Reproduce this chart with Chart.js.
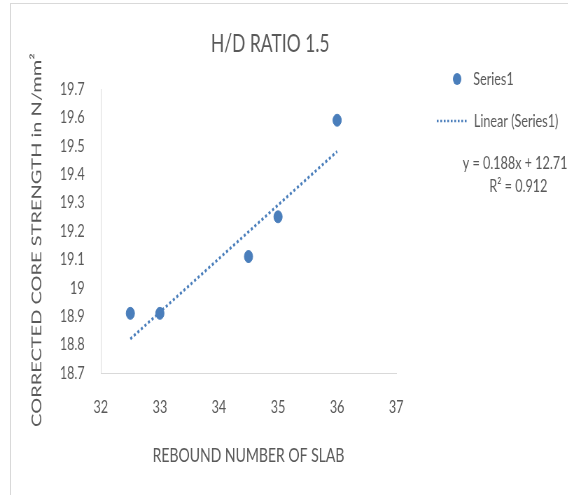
<!DOCTYPE html>
<html lang="en">
  <head>
    <meta charset="UTF-8" />
    <title>H/D RATIO 1.5</title>
    <script src="https://cdn.jsdelivr.net/npm/chart.js"></script>
    <style>
      body { margin: 0; background: #fff; }
      #wrap { position: relative; width: 568px; height: 495px; overflow: hidden; }
      #frame { position: absolute; left: 10px; top: 3px; width: 600px; height: 540px; border: 1px solid #d9d9d9; }
      /* the original picture is squeezed sideways, so draw wide and squeeze */
      canvas { position: absolute; left: 0; top: 0; transform: scaleX(0.7); transform-origin: 0 0; }
    </style>
  </head>
  <body>
    <div id="wrap">
      <div id="frame"></div>
      <canvas id="chart" width="811" height="495"></canvas>
    </div>

    <script>
      // data
      const rebound = [32.5, 33, 34.5, 35, 36];
      const strength = [18.91, 18.91, 19.11, 19.25, 19.59];
      // trendline ends (y = 0.188x + 12.71)
      const trendX = [32.5, 36];
      const trendY = [18.82, 19.48];
      const equationText = ["y = 0.188x + 12.71", "R\u00b2 = 0.912"];

      const font = "Lato, 'Open Sans', sans-serif";
      const grey = "#595959";
      const blue = "#4a7ebb";

      // title, y title, legend and equation
      const sideText = {
        id: "sideText",
        afterDraw(chart) {
          const ctx = chart.ctx;
          ctx.save();
          ctx.fillStyle = grey;
          ctx.textBaseline = "middle";
          ctx.textAlign = "center";
          ctx.font = "25px " + font;
          ctx.fillText("H/D RATIO 1.5", 386, 44);

          ctx.save();
          ctx.translate(53, 240);
          ctx.rotate(-Math.PI / 2);
          ctx.font = "20px " + font;
          ctx.fillText("CORRECTED CORE STRENGTH in N/mm\u00b2", 0, 0);
          ctx.restore();

          ctx.fillStyle = blue;
          ctx.beginPath();
          ctx.arc(653, 79, 6, 0, Math.PI * 2);
          ctx.fill();
          ctx.strokeStyle = blue;
          ctx.lineWidth = 2.5;
          ctx.setLineDash([2.5, 2.5]);
          ctx.beginPath();
          ctx.moveTo(624, 121);
          ctx.lineTo(669, 121);
          ctx.stroke();
          ctx.setLineDash([]);

          ctx.fillStyle = grey;
          ctx.font = "18px " + font;
          ctx.textAlign = "left";
          ctx.fillText("Series1", 676, 79);
          ctx.fillText("Linear (Series1)", 677, 121);
          ctx.fillText(equationText[0], 661, 163);
          ctx.fillText(equationText[1], 699, 186);
          ctx.restore();
        },
      };

      new Chart(document.getElementById("chart"), {
        type: "scatter",
        data: {
          datasets: [
            {
              label: "Series1",
              data: rebound.map((x, i) => ({ x: x, y: strength[i] })),
              backgroundColor: blue,
              borderColor: blue,
              pointRadius: 6,
              pointHoverRadius: 6,
            },
            {
              label: "Linear (Series1)",
              type: "line",
              data: trendX.map((x, i) => ({ x: x, y: trendY[i] })),
              borderColor: blue,
              borderWidth: 3,
              borderDash: [3, 3],
              pointRadius: 0,
              fill: false,
            },
          ],
        },
        options: {
          responsive: false,
          animation: false,
          layout: { padding: { left: 0, top: 89, right: 245, bottom: 20 } },
          plugins: {
            legend: { display: false },
            tooltip: { enabled: false },
          },
          scales: {
            x: {
              type: "linear",
              min: 32,
              max: 37,
              ticks: { stepSize: 1, color: grey, padding: 23, font: { family: font, size: 18 } },
              grid: { display: true, drawOnChartArea: false, drawTicks: false, color: "#d9d9d9" },
              border: { color: "#d9d9d9" },
              title: {
                display: true,
                text: "REBOUND NUMBER OF SLAB",
                color: grey,
                font: { family: font, size: 20 },
                padding: { top: 0, bottom: 7 },
              },
              afterFit(scale) { scale.height = 102; },
            },
            y: {
              min: 18.7,
              max: 19.7,
              ticks: {
                stepSize: 0.1,
                color: grey,
                padding: 23,
                font: { family: font, size: 18 },
                callback: (v) => Number(v.toFixed(1)).toString(),
              },
              grid: { display: true, drawOnChartArea: false, drawTicks: false, color: "#d9d9d9" },
              border: { color: "#d9d9d9" },
              afterFit(scale) { scale.width = 144; },
            },
          },
        },
        plugins: [sideText],
      });
    </script>
  </body>
</html>
